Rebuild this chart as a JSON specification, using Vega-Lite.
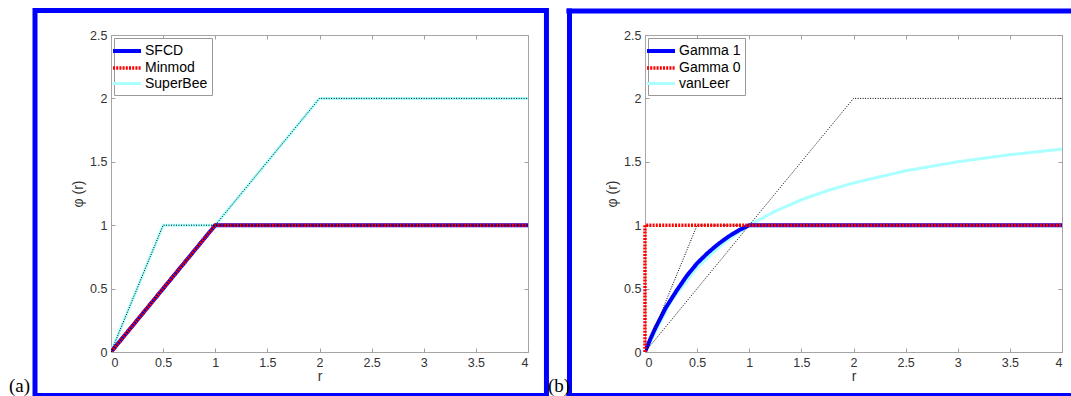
{
  "$schema": "https://vega.github.io/schema/vega-lite/v6.json",
  "background": "white",
  "padding": {"left": 8, "top": 6, "right": 0, "bottom": 0},
  "spacing": 117,
  "bounds": "flush",
  "resolve": {
    "scale": {"color": "independent", "strokeDash": "independent", "strokeWidth": "independent"},
    "legend": {"color": "independent", "strokeDash": "independent", "strokeWidth": "independent"}
  },
  "datasets": {
    "d": [
      {"p": "a", "s": "SFCD", "k": 0, "r": 0, "phi": 0},
      {"p": "a", "s": "SFCD", "k": 1, "r": 1, "phi": 1},
      {"p": "a", "s": "SFCD", "k": 2, "r": 4, "phi": 1},
      {"p": "a", "s": "Minmod", "k": 0, "r": 0, "phi": 0},
      {"p": "a", "s": "Minmod", "k": 1, "r": 1, "phi": 1},
      {"p": "a", "s": "Minmod", "k": 2, "r": 4, "phi": 1},
      {"p": "a", "s": "SuperBee", "k": 0, "r": 0, "phi": 0},
      {"p": "a", "s": "SuperBee", "k": 1, "r": 0.5, "phi": 1},
      {"p": "a", "s": "SuperBee", "k": 2, "r": 1, "phi": 1},
      {"p": "a", "s": "SuperBee", "k": 3, "r": 2, "phi": 2},
      {"p": "a", "s": "SuperBee", "k": 4, "r": 4, "phi": 2},
      {"p": "a", "s": "TVD1", "k": 0, "r": 0, "phi": 0},
      {"p": "a", "s": "TVD1", "k": 1, "r": 0.5, "phi": 1},
      {"p": "a", "s": "TVD1", "k": 2, "r": 1, "phi": 1},
      {"p": "a", "s": "TVD1", "k": 3, "r": 2, "phi": 2},
      {"p": "a", "s": "TVD1", "k": 4, "r": 4, "phi": 2},
      {"p": "a", "s": "TVD2", "k": 0, "r": 0, "phi": 0},
      {"p": "a", "s": "TVD2", "k": 1, "r": 1, "phi": 1},
      {"p": "a", "s": "TVD2", "k": 2, "r": 4, "phi": 1},
      {"p": "b", "s": "Gamma 1", "k": 0, "r": 0, "phi": 0},
      {"p": "b", "s": "Gamma 1", "k": 1, "r": 0.05, "phi": 0.1},
      {"p": "b", "s": "Gamma 1", "k": 2, "r": 0.1, "phi": 0.19},
      {"p": "b", "s": "Gamma 1", "k": 3, "r": 0.2, "phi": 0.35},
      {"p": "b", "s": "Gamma 1", "k": 4, "r": 0.3, "phi": 0.48},
      {"p": "b", "s": "Gamma 1", "k": 5, "r": 0.4, "phi": 0.6},
      {"p": "b", "s": "Gamma 1", "k": 6, "r": 0.5, "phi": 0.7},
      {"p": "b", "s": "Gamma 1", "k": 7, "r": 0.6, "phi": 0.78},
      {"p": "b", "s": "Gamma 1", "k": 8, "r": 0.7, "phi": 0.85},
      {"p": "b", "s": "Gamma 1", "k": 9, "r": 0.8, "phi": 0.91},
      {"p": "b", "s": "Gamma 1", "k": 10, "r": 0.9, "phi": 0.96},
      {"p": "b", "s": "Gamma 1", "k": 11, "r": 1, "phi": 1},
      {"p": "b", "s": "Gamma 1", "k": 12, "r": 4, "phi": 1},
      {"p": "b", "s": "Gamma 0", "k": 0, "r": 0, "phi": 0},
      {"p": "b", "s": "Gamma 0", "k": 1, "r": 0, "phi": 1},
      {"p": "b", "s": "Gamma 0", "k": 2, "r": 4, "phi": 1},
      {"p": "b", "s": "vanLeer", "k": 0, "r": 0, "phi": 0},
      {"p": "b", "s": "vanLeer", "k": 1, "r": 0.25, "phi": 0.4},
      {"p": "b", "s": "vanLeer", "k": 2, "r": 0.5, "phi": 0.667},
      {"p": "b", "s": "vanLeer", "k": 3, "r": 0.75, "phi": 0.857},
      {"p": "b", "s": "vanLeer", "k": 4, "r": 1, "phi": 1},
      {"p": "b", "s": "vanLeer", "k": 5, "r": 1.25, "phi": 1.111},
      {"p": "b", "s": "vanLeer", "k": 6, "r": 1.5, "phi": 1.2},
      {"p": "b", "s": "vanLeer", "k": 7, "r": 1.75, "phi": 1.273},
      {"p": "b", "s": "vanLeer", "k": 8, "r": 2, "phi": 1.333},
      {"p": "b", "s": "vanLeer", "k": 9, "r": 2.5, "phi": 1.429},
      {"p": "b", "s": "vanLeer", "k": 10, "r": 3, "phi": 1.5},
      {"p": "b", "s": "vanLeer", "k": 11, "r": 3.5, "phi": 1.556},
      {"p": "b", "s": "vanLeer", "k": 12, "r": 4, "phi": 1.6},
      {"p": "b", "s": "TVD1", "k": 0, "r": 0, "phi": 0},
      {"p": "b", "s": "TVD1", "k": 1, "r": 0.5, "phi": 1},
      {"p": "b", "s": "TVD1", "k": 2, "r": 1, "phi": 1},
      {"p": "b", "s": "TVD1", "k": 3, "r": 2, "phi": 2},
      {"p": "b", "s": "TVD1", "k": 4, "r": 4, "phi": 2},
      {"p": "b", "s": "TVD2", "k": 0, "r": 0, "phi": 0},
      {"p": "b", "s": "TVD2", "k": 1, "r": 1, "phi": 1},
      {"p": "b", "s": "TVD2", "k": 2, "r": 4, "phi": 1}
    ]
  },
  "hconcat": [
    {
      "width": 417,
      "height": 317,
      "data": {"name": "d"},
      "transform": [{"filter": "datum.p === 'a'"}],
      "resolve": {"axis": {"x": "independent", "y": "independent"}},
      "layer": [
        {
          "data": {"values": [{}]},
          "mark": {"type": "rect", "filled": false, "color": "#0000ff", "strokeWidth": 5, "clip": false},
          "encoding": {
            "x": {"datum": -0.729, "type": "quantitative", "scale": {"domain": [0, 4], "nice": false, "zero": false}, "axis": null},
            "x2": {"datum": 4.177},
            "y": {"datum": 2.693, "type": "quantitative", "scale": {"domain": [0, 2.5], "nice": false, "zero": false}, "axis": null},
            "y2": {"datum": -0.343}
          }
        },
        {
          "data": {"values": [{}]},
          "mark": {"type": "text", "text": "(a)", "font": "Liberation Serif", "fontSize": 19, "align": "left", "baseline": "alphabetic", "color": "black", "clip": false},
          "encoding": {
            "x": {"datum": -0.978, "type": "quantitative", "axis": null},
            "y": {"datum": -0.315, "type": "quantitative", "axis": null}
          }
        },
        {
          "transform": [{"filter": "datum.s === 'SuperBee'"}],
          "mark": {"type": "line", "clip": true},
          "encoding": {
            "x": {"field": "r", "type": "quantitative", "scale": {"domain": [0, 4], "nice": false, "zero": false}, "axis": {"values": [0, 0.5, 1, 1.5, 2, 2.5, 3, 3.5, 4], "format": "~g", "title": "r"}},
            "y": {"field": "phi", "type": "quantitative", "scale": {"domain": [0, 2.5], "nice": false, "zero": false}, "axis": {"values": [0, 0.5, 1, 1.5, 2, 2.5], "format": "~g", "title": "φ (r)"}},
            "order": {"field": "k", "type": "quantitative"},
            "color": {"field": "s", "type": "nominal", "scale": {"domain": ["SFCD", "Minmod", "SuperBee"], "range": ["#0000ff", "#ff0000", "#aaffff"]}, "legend": {"title": null}},
            "strokeDash": {"field": "s", "type": "nominal", "scale": {"domain": ["SFCD", "Minmod", "SuperBee"], "range": [[1, 0], [2, 1.2], [1, 0]]}, "legend": {"title": null}},
            "strokeWidth": {"field": "s", "type": "ordinal", "scale": {"domain": ["SFCD", "Minmod", "SuperBee"], "range": [4, 3, 2.5]}, "legend": {"title": null}}
          }
        },
        {
          "transform": [{"filter": "datum.s === 'SFCD'"}],
          "mark": {"type": "line", "clip": true},
          "encoding": {
            "x": {"field": "r", "type": "quantitative", "axis": null},
            "y": {"field": "phi", "type": "quantitative", "axis": null},
            "order": {"field": "k", "type": "quantitative"},
            "color": {"field": "s", "type": "nominal", "legend": {"title": null}},
            "strokeDash": {"field": "s", "type": "nominal", "legend": {"title": null}},
            "strokeWidth": {"field": "s", "type": "ordinal", "legend": {"title": null}}
          }
        },
        {
          "transform": [{"filter": "datum.s === 'Minmod'"}],
          "mark": {"type": "line", "clip": true},
          "encoding": {
            "x": {"field": "r", "type": "quantitative", "axis": null},
            "y": {"field": "phi", "type": "quantitative", "axis": null},
            "order": {"field": "k", "type": "quantitative"},
            "color": {"field": "s", "type": "nominal", "legend": {"title": null}},
            "strokeDash": {"field": "s", "type": "nominal", "legend": {"title": null}},
            "strokeWidth": {"field": "s", "type": "ordinal", "legend": {"title": null}}
          }
        },
        {
          "transform": [{"filter": "datum.s === 'TVD1' || datum.s === 'TVD2'"}],
          "mark": {"type": "line", "color": "#000000", "strokeWidth": 1, "strokeDash": [1, 1.5], "clip": true},
          "encoding": {
            "x": {"field": "r", "type": "quantitative", "axis": {"orient": "top", "labels": false, "title": null, "values": [0, 0.5, 1, 1.5, 2, 2.5, 3, 3.5, 4]}},
            "y": {"field": "phi", "type": "quantitative", "axis": {"orient": "right", "labels": false, "title": null, "values": [0, 0.5, 1, 1.5, 2, 2.5]}},
            "order": {"field": "k", "type": "quantitative"},
            "detail": {"field": "s", "type": "nominal"}
          }
        }
      ]
    },
    {
      "width": 417,
      "height": 317,
      "data": {"name": "d"},
      "transform": [{"filter": "datum.p === 'b'"}],
      "resolve": {"axis": {"x": "independent", "y": "independent"}},
      "layer": [
        {
          "data": {"values": [{}]},
          "mark": {"type": "rule", "color": "#0000ff", "strokeWidth": 5, "strokeCap": "butt", "clip": false},
          "encoding": {
            "x": {"datum": -0.7542, "type": "quantitative", "scale": {"domain": [0, 4], "nice": false, "zero": false}, "axis": null},
            "x2": {"datum": 4.096},
            "y": {"datum": 2.689, "type": "quantitative", "scale": {"domain": [0, 2.5], "nice": false, "zero": false}, "axis": null}
          }
        },
        {
          "data": {"values": [{}]},
          "mark": {"type": "rule", "color": "#0000ff", "strokeWidth": 5, "strokeCap": "butt", "clip": false},
          "encoding": {
            "x": {"datum": -0.7542, "type": "quantitative", "axis": null},
            "x2": {"datum": 4.096},
            "y": {"datum": -0.343, "type": "quantitative", "axis": null}
          }
        },
        {
          "data": {"values": [{}]},
          "mark": {"type": "rule", "color": "#0000ff", "strokeWidth": 5, "strokeCap": "square", "clip": false},
          "encoding": {
            "x": {"datum": -0.7242, "type": "quantitative", "axis": null},
            "y": {"datum": 2.689, "type": "quantitative", "axis": null},
            "y2": {"datum": -0.343}
          }
        },
        {
          "data": {"values": [{}]},
          "mark": {"type": "text", "text": "(b)", "font": "Liberation Serif", "fontSize": 19, "align": "left", "baseline": "alphabetic", "color": "black", "clip": false},
          "encoding": {
            "x": {"datum": -0.93, "type": "quantitative", "axis": null},
            "y": {"datum": -0.315, "type": "quantitative", "axis": null}
          }
        },
        {
          "transform": [{"filter": "datum.s === 'vanLeer'"}],
          "mark": {"type": "line", "clip": true},
          "encoding": {
            "x": {"field": "r", "type": "quantitative", "scale": {"domain": [0, 4], "nice": false, "zero": false}, "axis": {"values": [0, 0.5, 1, 1.5, 2, 2.5, 3, 3.5, 4], "format": "~g", "title": "r"}},
            "y": {"field": "phi", "type": "quantitative", "scale": {"domain": [0, 2.5], "nice": false, "zero": false}, "axis": {"values": [0, 0.5, 1, 1.5, 2, 2.5], "format": "~g", "title": "φ (r)"}},
            "order": {"field": "k", "type": "quantitative"},
            "color": {"field": "s", "type": "nominal", "scale": {"domain": ["Gamma 1", "Gamma 0", "vanLeer"], "range": ["#0000ff", "#ff0000", "#aaffff"]}, "legend": {"title": null}},
            "strokeDash": {"field": "s", "type": "nominal", "scale": {"domain": ["Gamma 1", "Gamma 0", "vanLeer"], "range": [[1, 0], [2, 1.2], [1, 0]]}, "legend": {"title": null}},
            "strokeWidth": {"field": "s", "type": "ordinal", "scale": {"domain": ["Gamma 1", "Gamma 0", "vanLeer"], "range": [4, 3, 2.5]}, "legend": {"title": null}}
          }
        },
        {
          "transform": [{"filter": "datum.s === 'Gamma 1'"}],
          "mark": {"type": "line", "clip": true},
          "encoding": {
            "x": {"field": "r", "type": "quantitative", "axis": null},
            "y": {"field": "phi", "type": "quantitative", "axis": null},
            "order": {"field": "k", "type": "quantitative"},
            "color": {"field": "s", "type": "nominal", "legend": {"title": null}},
            "strokeDash": {"field": "s", "type": "nominal", "legend": {"title": null}},
            "strokeWidth": {"field": "s", "type": "ordinal", "legend": {"title": null}}
          }
        },
        {
          "transform": [{"filter": "datum.s === 'TVD1' || datum.s === 'TVD2'"}],
          "mark": {"type": "line", "color": "#000000", "strokeWidth": 1, "strokeDash": [1, 1.5], "clip": true},
          "encoding": {
            "x": {"field": "r", "type": "quantitative", "axis": {"orient": "top", "labels": false, "title": null, "values": [0, 0.5, 1, 1.5, 2, 2.5, 3, 3.5, 4]}},
            "y": {"field": "phi", "type": "quantitative", "axis": {"orient": "right", "labels": false, "title": null, "values": [0, 0.5, 1, 1.5, 2, 2.5]}},
            "order": {"field": "k", "type": "quantitative"},
            "detail": {"field": "s", "type": "nominal"}
          }
        },
        {
          "transform": [{"filter": "datum.s === 'Gamma 0'"}],
          "mark": {"type": "line", "clip": false},
          "encoding": {
            "x": {"field": "r", "type": "quantitative", "axis": null},
            "y": {"field": "phi", "type": "quantitative", "axis": null},
            "order": {"field": "k", "type": "quantitative"},
            "color": {"field": "s", "type": "nominal", "legend": {"title": null}},
            "strokeDash": {"field": "s", "type": "nominal", "legend": {"title": null}},
            "strokeWidth": {"field": "s", "type": "ordinal", "legend": {"title": null}}
          }
        }
      ]
    }
  ],
  "config": {
    "font": "Liberation Sans",
    "view": {"stroke": "#a6a6a6", "strokeWidth": 1},
    "axis": {
      "grid": false,
      "domain": false,
      "ticks": true,
      "tickColor": "#a0a0a0",
      "tickSize": -4,
      "labelFont": "Liberation Sans",
      "labelFontSize": 12.5,
      "labelColor": "#333333",
      "titleFont": "Liberation Sans",
      "titleFontSize": 14,
      "titleFontWeight": "normal",
      "titleColor": "#333333"
    },
    "axisX": {"labelPadding": 8, "titlePadding": 1},
    "axisY": {"labelPadding": 8, "titlePadding": 4},
    "legend": {
      "orient": "top-left",
      "offset": 3,
      "strokeColor": "#999999",
      "fillColor": "white",
      "padding": 4,
      "symbolType": "M-2,0L2,0",
      "symbolSize": 196,
      "labelFont": "Liberation Sans",
      "labelFontSize": 14,
      "labelColor": "#000000",
      "labelOffset": 9,
      "rowPadding": 0
    }
  }
}
